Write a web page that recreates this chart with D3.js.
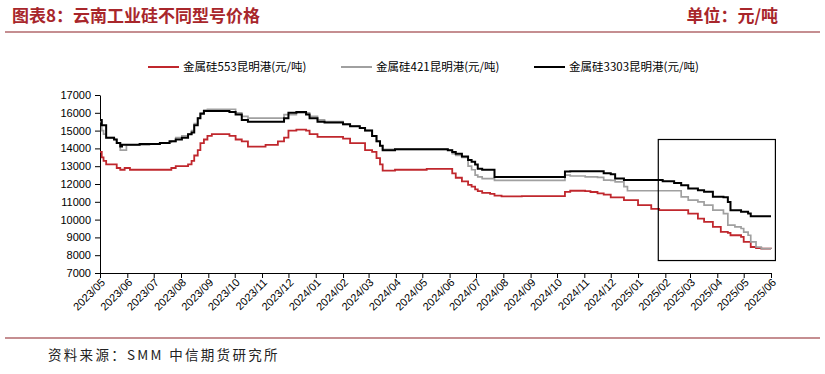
<!DOCTYPE html>
<html>
<head>
<meta charset="utf-8">
<script src="https://cdn.jsdelivr.net/npm/d3@7"></script>
<style>
  body { margin: 0; background: #fff; }
  svg { display: block; }
  .axis text { font-family: "Liberation Sans", Arial, sans-serif; font-size: 11px; fill: #000; }
  .axis path, .axis line { stroke: #000; }
</style>
</head>
<body>
<div id="chart"></div>
<script>
// change dates shared by the three series (step data)
const dates = [
  "2023-05-01","2023-05-03","2023-05-05","2023-05-08","2023-05-17","2023-05-20","2023-05-24","2023-05-26",
  "2023-05-29","2023-05-31","2023-06-04","2023-06-15","2023-06-26","2023-07-08","2023-07-19","2023-07-21",
  "2023-07-26","2023-08-02","2023-08-09","2023-08-13","2023-08-16","2023-08-20","2023-08-23","2023-08-27",
  "2023-08-31","2023-09-05","2023-09-21","2023-09-25","2023-10-02","2023-10-09","2023-10-16","2023-11-05",
  "2023-11-19","2023-11-26","2023-12-01","2023-12-10","2023-12-21","2023-12-25","2024-01-03","2024-01-11",
  "2024-02-01","2024-02-09","2024-02-20","2024-02-26","2024-03-05","2024-03-10","2024-03-14","2024-03-17",
  "2024-03-31","2024-04-19","2024-05-06","2024-05-30","2024-06-04","2024-06-08","2024-06-15","2024-06-22",
  "2024-06-26","2024-06-30","2024-07-03","2024-07-08","2024-07-17","2024-07-22","2024-07-30","2024-08-22",
  "2024-10-10","2024-10-16","2024-11-02","2024-11-08","2024-11-16","2024-11-23","2024-12-01","2024-12-06",
  "2024-12-16","2024-12-20","2025-01-01","2025-01-16","2025-01-25","2025-01-29","2025-02-11","2025-02-19",
  "2025-02-27","2025-03-10","2025-03-17","2025-03-21","2025-03-27","2025-04-05","2025-04-08","2025-04-13",
  "2025-04-16","2025-04-21","2025-04-28","2025-05-01","2025-05-06","2025-05-09","2025-05-15","2025-05-21",
  "2025-06-01"
];

const si553 = [
  13800,13500,13300,13100,13100,12900,12800,12800,
  12900,12900,12800,12800,12800,12800,12800,12900,
  13000,13000,13100,13300,13600,13900,14300,14500,
  14700,14800,14800,14700,14500,14400,14100,14200,
  14400,14600,15000,15050,15000,14800,14650,14650,
  14550,14300,14300,13900,13800,13450,13100,12750,
  12800,12800,12850,12850,12600,12350,12150,11950,
  11850,11700,11600,11500,11450,11350,11300,11320,
  11560,11620,11600,11550,11470,11400,11250,11250,
  11090,11090,10810,10600,10530,10530,10530,10530,
  10340,10060,9870,9870,9590,9310,9310,9250,
  9120,9120,9030,8750,8750,8460,8400,8370,
  8350
];

const si421 = [
  15500,15000,14800,14600,14500,14300,13900,13900,
  13900,14200,14200,14200,14250,14300,14350,14400,
  14600,14700,14800,15000,15400,15700,16000,16150,
  16200,16200,16200,16200,16000,15800,15700,15700,
  15700,15900,15900,16000,16000,15800,15600,15500,
  15350,15250,15150,15000,14700,14400,14150,13950,
  13950,13950,13950,13900,13700,13600,13500,13000,
  12800,12500,12400,12300,12300,12200,12200,12200,
  12500,12450,12400,12400,12370,12220,12200,12120,
  11850,11620,11620,11620,11620,11620,11620,11280,
  11090,11000,10810,10810,10530,10530,10340,9690,
  9690,9590,9500,9300,9120,8750,8460,8370,
  8350
];

const si3303 = [
  15600,15300,15300,14600,14500,14300,14100,14200,
  14200,14200,14200,14250,14250,14300,14400,14400,
  14500,14600,14800,14900,15300,15700,15950,16100,
  16100,16100,16100,16050,15900,15600,15500,15500,
  15500,15700,16000,16050,15900,15700,15500,15450,
  15350,15250,15150,15000,14700,14400,14150,13900,
  13950,13950,13950,13900,13800,13700,13550,13350,
  13250,13100,12850,12800,12800,12400,12400,12400,
  12700,12720,12720,12720,12720,12600,12550,12310,
  12220,12220,12220,12220,12220,12160,12060,11935,
  11750,11650,11560,11560,11280,11280,11250,10995,
  10530,10530,10440,10440,10340,10190,10190,10190,
  10190
];

const seriesNames = ["金属硅553昆明港(元/吨)", "金属硅421昆明港(元/吨)", "金属硅3303昆明港(元/吨)"];
const seriesColors = ["#c0272d", "#a0a0a0", "#000000"];
const yTicks = [7000, 8000, 9000, 10000, 11000, 12000, 13000, 14000, 15000, 16000, 17000];
// highlighted window in the chart
const boxDates = ["2025-01-24", "2025-06-06"];
const boxValues = [14500, 7700];

const parse = d3.timeParse("%Y-%m-%d");
const width = 825, height = 374;
const margin = {top: 95, right: 54, bottom: 101, left: 100};

const svg = d3.select("#chart").append("svg")
  .attr("width", width)
  .attr("height", height);

const x = d3.scaleTime()
  .domain([parse("2023-05-01"), parse("2025-06-01")])
  .range([margin.left, width - margin.right]);

const y = d3.scaleLinear()
  .domain([7000, 17000])
  .range([height - margin.bottom, margin.top]);

// header
svg.append("text")
  .attr("x", 12).attr("y", 22)
  .attr("font-family", "'Noto Sans CJK SC', sans-serif")
  .attr("font-size", 17).attr("font-weight", 700)
  .attr("fill", "#a8262b")
  .text("图表8：云南工业硅不同型号价格");

svg.append("text")
  .attr("x", 778).attr("y", 22)
  .attr("text-anchor", "end")
  .attr("font-family", "'Noto Sans CJK SC', sans-serif")
  .attr("font-size", 17).attr("font-weight", 700)
  .attr("fill", "#a8262b")
  .text("单位：元/吨");

svg.append("line")
  .attr("x1", 5).attr("x2", 820).attr("y1", 32).attr("y2", 32)
  .attr("stroke", "#8b1f24").attr("stroke-width", 1.2);

svg.append("line")
  .attr("x1", 5).attr("x2", 820).attr("y1", 338).attr("y2", 338)
  .attr("stroke", "#8b1f24").attr("stroke-width", 1.2);

svg.append("text")
  .attr("x", 48).attr("y", 360)
  .attr("font-family", "'Noto Sans CJK SC', sans-serif")
  .attr("font-size", 13.5)
  .attr("letter-spacing", 2.3)
  .attr("fill", "#222")
  .text("资料来源：SMM  中信期货研究所");

// legend
const legendX = [148, 341, 534];
const legend = svg.selectAll(".legend")
  .data(seriesNames)
  .enter()
  .append("g")
  .attr("class", "legend")
  .attr("transform", function(d, i) { return `translate(${legendX[i]}, 67)`; });

legend.append("line")
  .attr("x1", 0).attr("x2", 31)
  .attr("stroke", function(d, i) { return seriesColors[i]; })
  .attr("stroke-width", 2);

legend.append("text")
  .attr("x", 35).attr("dy", "0.35em")
  .attr("font-family", "'Noto Sans CJK SC', sans-serif")
  .attr("font-size", 11.5)
  .attr("fill", "#000")
  .text(function(d) { return d; });

// axes
svg.append("g")
  .attr("class", "axis")
  .attr("transform", `translate(${margin.left}, 0)`)
  .call(d3.axisLeft(y).tickValues(yTicks).tickSize(5).tickSizeOuter(0).tickFormat(d3.format("d")))
  .selectAll("text").attr("dx", "-1");

const xAxis = svg.append("g")
  .attr("class", "axis")
  .attr("transform", `translate(0, ${height - margin.bottom})`)
  .call(d3.axisBottom(x).ticks(d3.timeMonth.every(1)).tickSize(5).tickSizeOuter(0).tickFormat(d3.timeFormat("%Y/%m")));

xAxis.selectAll("text")
  .attr("text-anchor", "end")
  .attr("transform", "translate(4, 6) rotate(-45)")
  .attr("dy", "0.35em")
  .attr("y", 0).attr("x", -2);

// lines
const allSeries = [si553, si421, si3303];
const line = d3.line()
  .curve(d3.curveStepAfter)
  .x(function(d) { return x(d.date); })
  .y(function(d) { return y(d.value); });

allSeries.forEach(function(values, i) {
  const pts = dates.map(function(d, j) { return {date: parse(d), value: values[j]}; });
  svg.append("path")
    .datum(pts)
    .attr("fill", "none")
    .attr("stroke", seriesColors[i])
    .attr("stroke-width", i == 0 ? 1.8 : (i == 1 ? 1.7 : 2))
    .attr("stroke-linejoin", "miter")
    .attr("d", line);
});

// highlight box
svg.append("rect")
  .attr("x", x(parse(boxDates[0])))
  .attr("y", y(boxValues[0]))
  .attr("width", x(parse(boxDates[1])) - x(parse(boxDates[0])))
  .attr("height", y(boxValues[1]) - y(boxValues[0]))
  .attr("fill", "none")
  .attr("stroke", "#000")
  .attr("stroke-width", 1.2);
</script>
</body>
</html>
